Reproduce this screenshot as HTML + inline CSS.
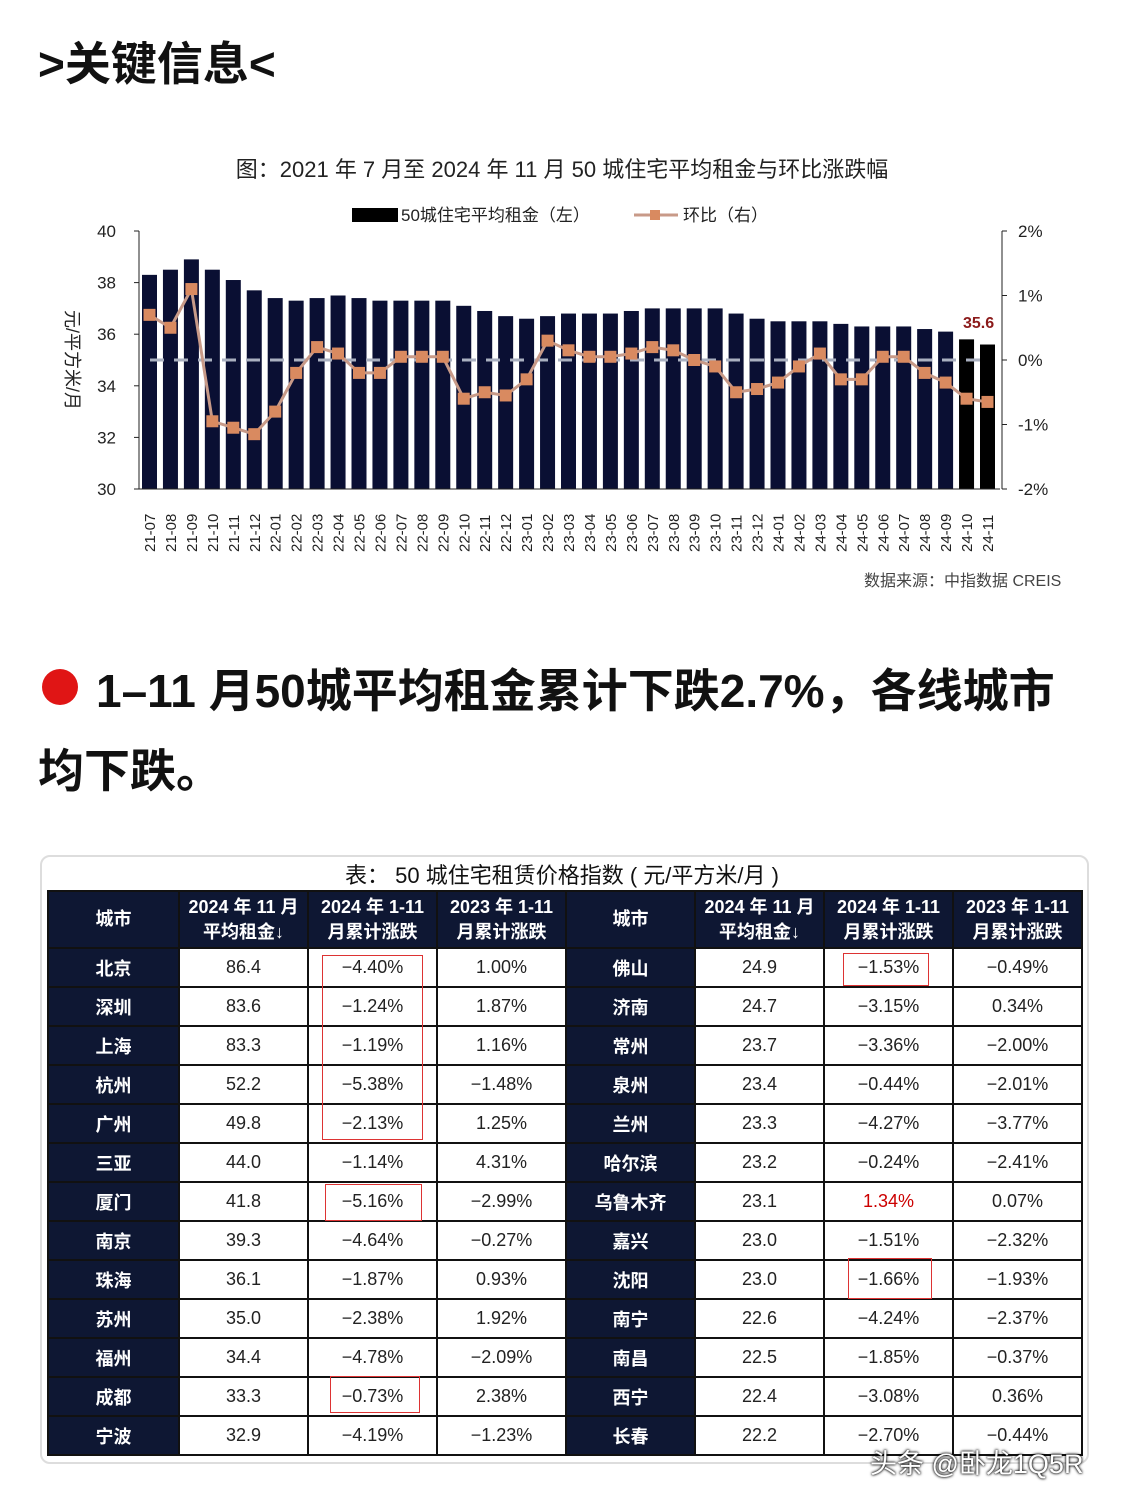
<!DOCTYPE html>
<html><head><meta charset="utf-8">
<style>
body{margin:0;width:1124px;height:1498px;background:#fff;position:relative;overflow:hidden;font-family:"Liberation Sans","Noto Sans CJK SC",sans-serif;}
.a{position:absolute;white-space:nowrap;}
table{position:absolute;left:47px;top:890px;border-collapse:collapse;}
td{border:2px solid #111;height:37px;text-align:center;font-size:18px;color:#222;padding:0;}
td.c{background:#0e1733;color:#fff;font-weight:bold;}
tr.h td{background:#0e1733;color:#fff;font-weight:bold;height:55px;line-height:25px;font-size:18px;}
.rb{position:absolute;border:1.5px solid #d33;}
</style></head><body>
<div class="a" style="left:38px;top:28px;font-size:46px;font-weight:bold;color:#111">&gt;关键信息&lt;</div>
<div class="a" style="left:0;width:1124px;text-align:center;top:152px;font-size:22px;color:#222">图：2021 年 7 月至 2024 年 11 月 50 城住宅平均租金与环比涨跌幅</div>
<svg class="a" style="left:0;top:0" width="1124" height="600" id="ch"></svg>
<div class="a" style="left:864px;top:567px;font-size:16px;color:#444">数据来源：中指数据 CREIS</div>
<div class="a" style="left:42px;top:669px;width:36px;height:36px;border-radius:50%;background:#e01515"></div>
<div class="a" style="left:96px;top:655px;font-size:46px;font-weight:bold;color:#111">1–11 月50城平均租金累计下跌2.7%，各线城市</div>
<div class="a" style="left:38px;top:735px;font-size:46px;font-weight:bold;color:#111">均下跌。</div>
<div class="a" style="left:40px;top:855px;width:1045px;height:605px;border:2px solid #ddd;border-radius:10px"></div>
<div class="a" style="left:0;width:1124px;text-align:center;top:858px;font-size:22px;color:#111">表： 50 城住宅租赁价格指数 ( 元/平方米/月 )</div>
<table id="t"></table>
<div class="rb" style="left:322px;top:955px;width:99px;height:183px"></div>
<div class="rb" style="left:325px;top:1184px;width:95px;height:35px"></div>
<div class="rb" style="left:330px;top:1376px;width:88px;height:35px"></div>
<div class="rb" style="left:843px;top:953px;width:84px;height:31px"></div>
<div class="rb" style="left:848px;top:1258px;width:82px;height:39px"></div>
<div class="a" style="left:870px;top:1442px;font-size:27px;color:#fff;text-shadow:0 0 3px #000,0 0 2px #000">头条 @卧龙1Q5R</div>
<script>
var v=[38.3,38.5,38.9,38.5,38.1,37.7,37.4,37.3,37.4,37.5,37.4,37.3,37.3,37.3,37.3,37.1,36.9,36.7,36.6,36.7,36.8,36.8,36.8,36.9,37.0,37.0,37.0,37.0,36.8,36.6,36.5,36.5,36.5,36.4,36.3,36.3,36.3,36.2,36.1,35.8,35.6];
var p=[0.7,0.5,1.1,-0.95,-1.05,-1.15,-0.8,-0.2,0.2,0.1,-0.2,-0.2,0.05,0.05,0.05,-0.6,-0.5,-0.55,-0.3,0.3,0.15,0.05,0.05,0.1,0.2,0.15,0,-0.1,-0.5,-0.45,-0.35,-0.1,0.1,-0.3,-0.3,0.05,0.05,-0.2,-0.35,-0.6,-0.65];
var s='',L=[];
function Y(x){return 489-(x-30)*25.8}function P(x){return 360-x*64.5}
for(var i=0;i<41;i++){var x=142+i*20.95;s+='<rect x="'+x+'" y="'+Y(v[i])+'" width="15" height="'+(489-Y(v[i]))+'" fill="'+(i>38?'#000':'#0a0f33')+'"/>';L.push((x+7.5)+','+P(p[i]));
var yy=2021+Math.floor((6+i)/12),mm=(6+i)%12+1;s+='<text transform="translate('+(x+13)+',552) rotate(-90)" font-size="15" fill="#222">'+String(yy).slice(2)+'-'+(mm<10?'0':'')+mm+'</text>';}
s+='<line x1="150" y1="360" x2="990" y2="360" stroke="#aab0c0" stroke-width="3" stroke-dasharray="14,10"/>';
s+='<polyline points="'+L.join(' ')+'" fill="none" stroke="#c89a88" stroke-width="3"/>';
L.forEach(function(q){var a=q.split(',');s+='<rect x="'+(a[0]-6)+'" y="'+(a[1]-6)+'" width="12" height="12" fill="#d98a60"/>'});
s+='<line x1="139" y1="231" x2="139" y2="489" stroke="#222"/><line x1="139" y1="489" x2="1000" y2="489" stroke="#222"/><line x1="1002" y1="231" x2="1002" y2="489" stroke="#222"/>';
for(var k=0;k<6;k++){var y=231+k*51.6;s+='<line x1="134" y1="'+y+'" x2="139" y2="'+y+'" stroke="#222"/><text x="116" y="'+(y+6)+'" font-size="17" text-anchor="end" fill="#222">'+(40-2*k)+'</text>';}
['2%','1%','0%','-1%','-2%'].forEach(function(t,k){var y=231+k*64.5;s+='<line x1="1002" y1="'+y+'" x2="1007" y2="'+y+'" stroke="#222"/><text x="1018" y="'+(y+6)+'" font-size="17" fill="#222">'+t+'</text>'});
s+='<text transform="translate(66,360) rotate(90)" font-size="18" text-anchor="middle" fill="#222">元/平方米/月</text>';
s+='<text x="963" y="328" font-size="16" font-weight="bold" fill="#8b1a1a">35.6</text>';
s+='<rect x="352" y="208" width="46" height="14" fill="#000"/><text x="401" y="221" font-size="17" fill="#222">50城住宅平均租金（左）</text>';
s+='<line x1="634" y1="215" x2="678" y2="215" stroke="#c89a88" stroke-width="3"/><rect x="650" y="210" width="10" height="10" fill="#d98a60"/><text x="683" y="221" font-size="17" fill="#222">环比（右）</text>';
document.getElementById('ch').innerHTML=s;
var R=[["北京","86.4","−4.40%","1.00%","佛山","24.9","−1.53%","−0.49%"],["深圳","83.6","−1.24%","1.87%","济南","24.7","−3.15%","0.34%"],["上海","83.3","−1.19%","1.16%","常州","23.7","−3.36%","−2.00%"],["杭州","52.2","−5.38%","−1.48%","泉州","23.4","−0.44%","−2.01%"],["广州","49.8","−2.13%","1.25%","兰州","23.3","−4.27%","−3.77%"],["三亚","44.0","−1.14%","4.31%","哈尔滨","23.2","−0.24%","−2.41%"],["厦门","41.8","−5.16%","−2.99%","乌鲁木齐","23.1","1.34%","0.07%"],["南京","39.3","−4.64%","−0.27%","嘉兴","23.0","−1.51%","−2.32%"],["珠海","36.1","−1.87%","0.93%","沈阳","23.0","−1.66%","−1.93%"],["苏州","35.0","−2.38%","1.92%","南宁","22.6","−4.24%","−2.37%"],["福州","34.4","−4.78%","−2.09%","南昌","22.5","−1.85%","−0.37%"],["成都","33.3","−0.73%","2.38%","西宁","22.4","−3.08%","0.36%"],["宁波","32.9","−4.19%","−1.23%","长春","22.2","−2.70%","−0.44%"]];
var h='<tr class="h"><td style="width:129px">城市</td><td style="width:127px">2024 年 11 月<br>平均租金↓</td><td style="width:127px">2024 年 1-11<br>月累计涨跌</td><td style="width:127px">2023 年 1-11<br>月累计涨跌</td><td style="width:127px">城市</td><td style="width:127px">2024 年 11 月<br>平均租金↓</td><td style="width:127px">2024 年 1-11<br>月累计涨跌</td><td style="width:127px">2023 年 1-11<br>月累计涨跌</td></tr>';
R.forEach(function(r){h+='<tr>';r.forEach(function(c,j){var cl=(j==0||j==4)?' class="c"':'';var st=(c=='1.34%')?' style="color:#c00"':'';h+='<td'+cl+st+'>'+c+'</td>'});h+='</tr>'});
document.getElementById('t').innerHTML=h;
</script>
</body></html>
